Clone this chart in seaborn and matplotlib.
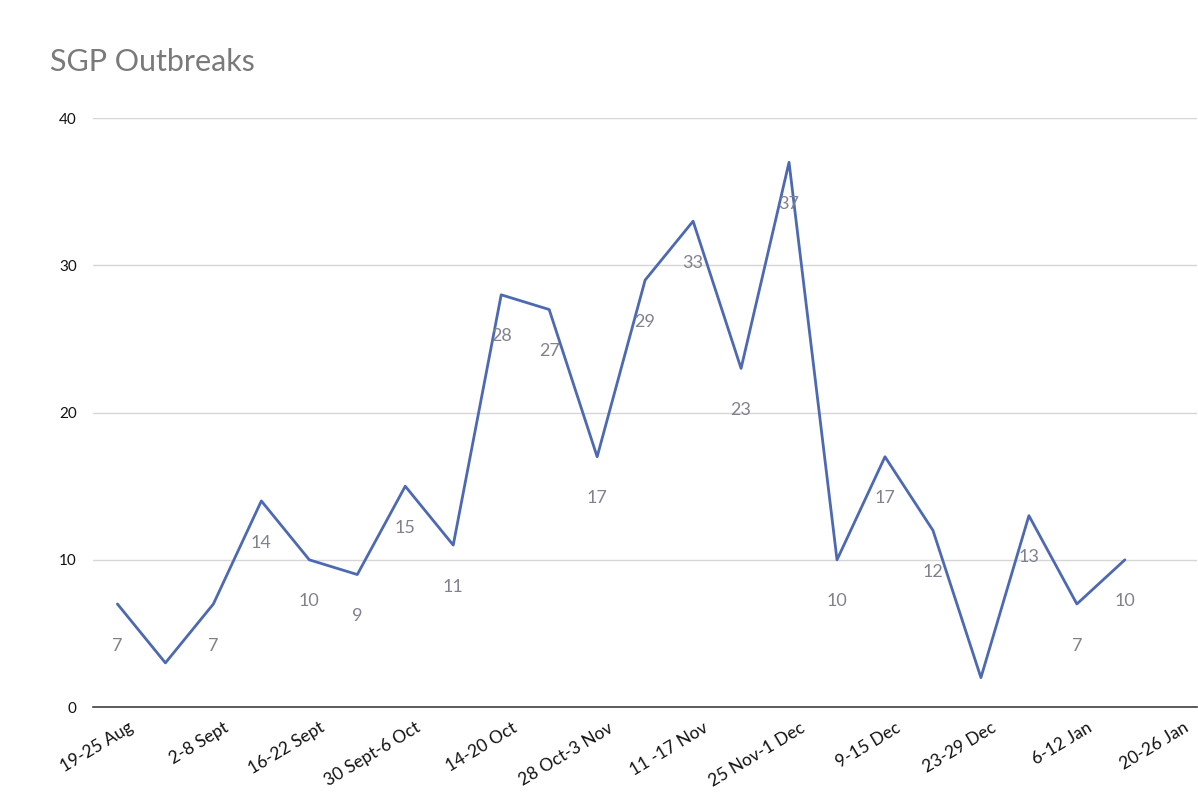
import numpy as np
import pandas as pd
import matplotlib
matplotlib.use("Agg")
import matplotlib.pyplot as plt
import matplotlib.transforms as mtransforms
import seaborn as sns

weeks = ["19-25 Aug", "26 Aug-1 Sept", "2-8 Sept", "9-15 Sept", "16-22 Sept",
         "23-29 Sept", "30 Sept-6 Oct", "7-13 Oct", "14-20 Oct", "21-27 Oct",
         "28 Oct-3 Nov", "4-10 Nov", "11 -17 Nov", "18-24 Nov", "25 Nov-1 Dec",
         "2-8 Dec", "9-15 Dec", "16-22 Dec", "23-29 Dec", "30 Dec-5 Jan",
         "6-12 Jan", "13-19 Jan", "20-26 Jan"]
outbreaks = [7, 3, 7, 14, 10, 9, 15, 11, 28, 27, 17, 29, 33, 23, 37,
             10, 17, 12, 2, 13, 7, 10, np.nan]
yticks = [0, 10, 20, 30, 40]

df = pd.DataFrame({"pos": np.arange(len(weeks)), "week": weeks, "value": outbreaks})

sns.set_theme(style="white")
plt.rcParams["font.family"] = ["Lato", "DejaVu Sans"]

fig = plt.figure(figsize=(11.98, 8.09), dpi=100)
ax = fig.add_axes([0.078, 0.126, 0.921, 0.728])

sns.lineplot(data=df.dropna(), x="pos", y="value", ax=ax, color="#4d69b2",
             linewidth=2.0, sort=False)

# data labels (Excel hides labels that would fall below the axis)
for _, r in df.dropna().iterrows():
    if r["value"] < 4:
        continue
    ax.annotate(f"{int(r['value'])}", (r["pos"], r["value"]), xytext=(0, -30),
                textcoords="offset points", ha="center", va="center",
                fontsize=13, color="#80828f")

ax.set_xlim(-0.5, len(weeks) - 0.5)
ax.set_ylim(0, 40)
ax.set_yticks(yticks)
ax.set_yticklabels([str(v) for v in yticks], fontsize=11, color="#111111")
ax.yaxis.grid(True, color="#d6d6d6", linewidth=1)
ax.set_axisbelow(True)

tick_pos = list(range(0, len(weeks), 2))
ax.set_xticks(tick_pos)
ax.set_xticklabels([weeks[i] for i in tick_pos], rotation=31, ha="right",
                   rotation_mode="anchor", fontsize=12.5, color="#111111")
ax.tick_params(axis="x", length=0, pad=9)
ax.tick_params(axis="y", length=0, pad=12)
shift = mtransforms.ScaledTranslation(10 / 100, 0, fig.dpi_scale_trans)
for lbl in ax.get_xticklabels():
    lbl.set_transform(lbl.get_transform() + shift)

for s in ["top", "right", "left"]:
    ax.spines[s].set_visible(False)
ax.spines["bottom"].set_color("#404040")
ax.spines["bottom"].set_linewidth(1.2)
ax.set_xlabel("")
ax.set_ylabel("")

fig.text(0.042, 0.923, "SGP Outbreaks", fontsize=22, color="#7a7a7a",
         ha="left", va="center")

fig.savefig("out.png", dpi=100, facecolor="white")
